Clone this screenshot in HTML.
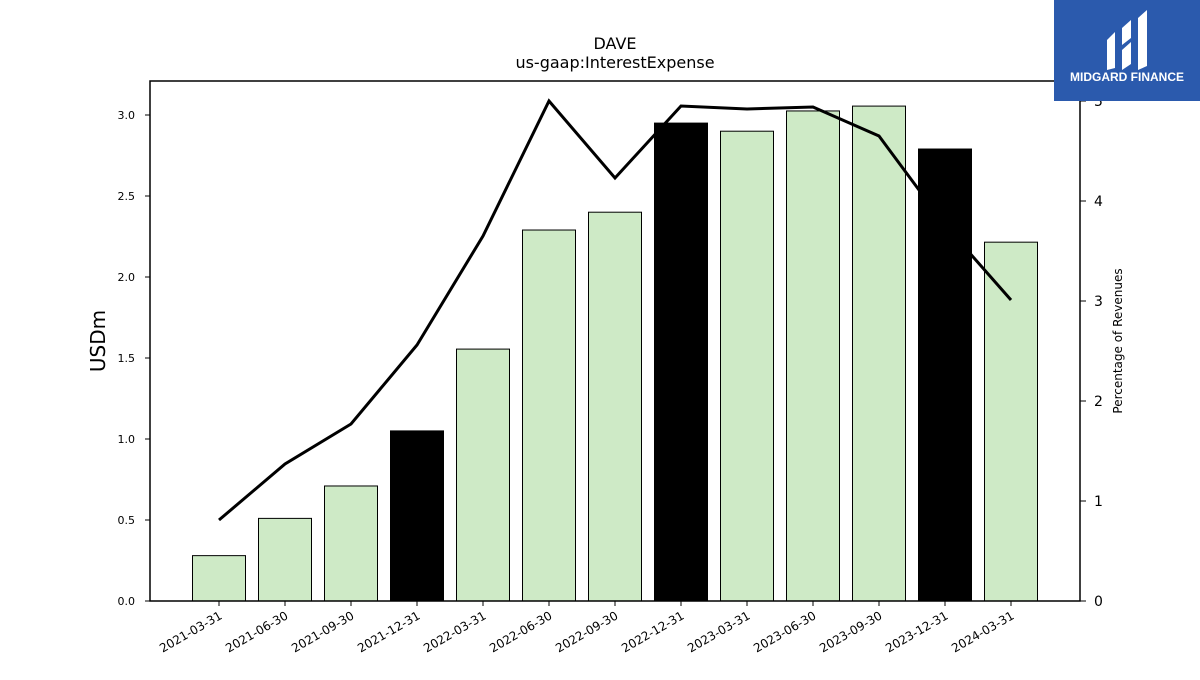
<!DOCTYPE html>
<html><head><meta charset="utf-8"><style>
body{margin:0;background:#fff;font-family:"Liberation Sans","DejaVu Sans",sans-serif}
</style></head><body>
<svg id="chart" width="1200" height="675" xmlns="http://www.w3.org/2000/svg" style="font-family:'DejaVu Sans','Liberation Sans',sans-serif">
<text x="615" y="49" text-anchor="middle" font-size="16">DAVE</text>
<text x="615" y="68" text-anchor="middle" font-size="16">us-gaap:InterestExpense</text>
<g id="bars"></g><g id="xticks"></g><g id="lyt"></g><g id="ryt"></g>
<path id="line" fill="none" stroke="#000" stroke-width="3"/>
<rect x="150" y="81" width="930" height="520" fill="none" stroke="#000" stroke-width="1.5"/>
<text transform="translate(105,341) rotate(-90)" text-anchor="middle" font-size="20">USDm</text>
<text transform="translate(1122,341) rotate(-90)" text-anchor="middle" font-size="12">Percentage of Revenues</text>
<g>
<rect x="1054" y="0" width="146" height="101" fill="#2b5aad"/>
<path d="M1107 40 L1115 32 L1115 68 L1107 70 Z M1122 28 L1131 20 L1131 38 L1122 45 Z M1122 50 L1131 42 L1131 64 L1122 70 Z M1138 18 L1147 10 L1147 66 L1138 70 Z" fill="#fff"/>
<text x="1127" y="81" text-anchor="middle" font-size="12" font-weight="bold" fill="#fff" font-family="Liberation Sans, sans-serif">MIDGARD FINANCE</text>
</g>
</svg>
<script>
const categories=["2021-03-31","2021-06-30","2021-09-30","2021-12-31","2022-03-31","2022-06-30","2022-09-30","2022-12-31","2023-03-31","2023-06-30","2023-09-30","2023-12-31","2024-03-31"];
const barValues=[0.28,0.51,0.71,1.05,1.555,2.29,2.40,2.95,2.90,3.025,3.055,2.79,2.215];
const highlighted=[false,false,false,true,false,false,false,true,false,false,false,true,false];
const pctValues=[0.81,1.37,1.77,2.56,3.65,5.0,4.23,4.95,4.92,4.94,4.65,3.76,3.01];
const leftTicks=[0,0.5,1.0,1.5,2.0,2.5,3.0];
const rightTicks=[0,1,2,3,4,5];
const NS="http://www.w3.org/2000/svg";
const x=i=>219+i*66.0;
const yl=v=>601-v*162;
const yr=v=>601-v*100;
function mk(t,p,a){const e=document.createElementNS(NS,t);for(const k in a)e.setAttribute(k,a[k]);p.appendChild(e);return e;}
const bars=document.getElementById('bars');
barValues.forEach((v,i)=>{const r=mk('rect',bars,{x:x(i)-26.5,y:yl(v),width:53,height:yl(0)-yl(v),fill:highlighted[i]?'#000':'#ceeac6',stroke:'#000','stroke-width':1});

});
const xt=document.getElementById('xticks');
categories.forEach((c,i)=>{mk('line',xt,{x1:x(i),x2:x(i),y1:601,y2:606,stroke:'#000'});
const t=mk('text',xt,{transform:`translate(${x(i)+4},${618}) rotate(-30)`,'text-anchor':'end','font-size':12});t.textContent=c;

});
const ly=document.getElementById('lyt');
leftTicks.forEach(v=>{mk('line',ly,{x1:145,x2:150,y1:yl(v),y2:yl(v),stroke:'#000'});
const t=mk('text',ly,{x:135,y:yl(v)+4,'text-anchor':'end','font-size':11});t.textContent=v.toFixed(1);

});
const ry=document.getElementById('ryt');
rightTicks.forEach(v=>{mk('line',ry,{x1:1080,x2:1086,y1:yr(v),y2:yr(v),stroke:'#000'});
const t=mk('text',ry,{x:1094,y:yr(v)+5,'font-size':14});t.textContent=v;

});
document.getElementById('line').setAttribute('d',pctValues.map((v,i)=>(i?'L':'M')+x(i)+' '+yr(v)).join(' '));
</script>
</body></html>
